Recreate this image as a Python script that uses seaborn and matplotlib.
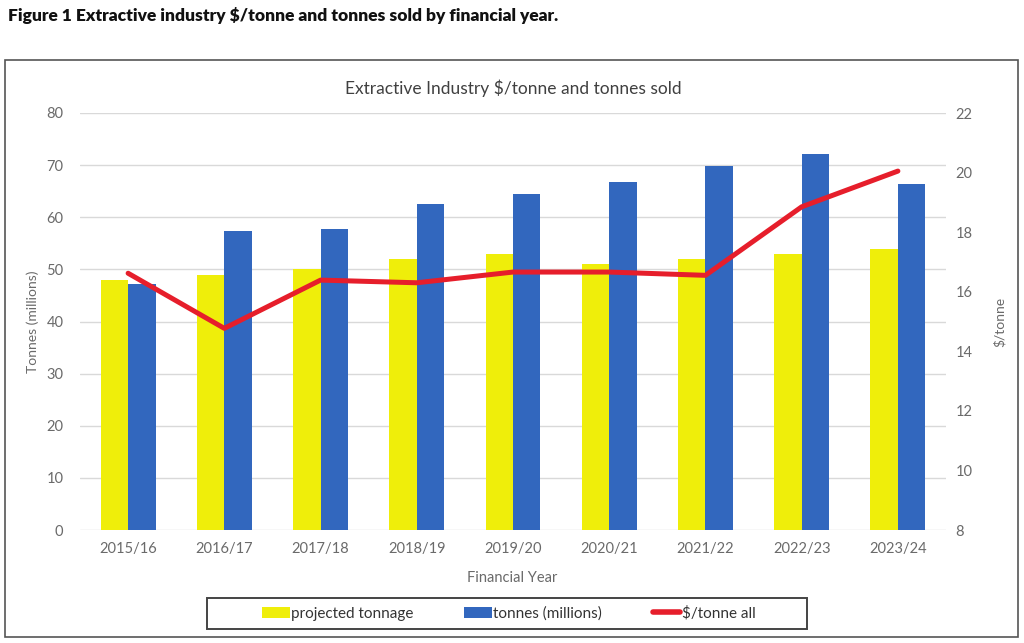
import numpy as np
import pandas as pd
import matplotlib
matplotlib.use("Agg")
import matplotlib.pyplot as plt
import seaborn as sns
from matplotlib.patches import Patch, Rectangle
from matplotlib.lines import Line2D

years = ["2015/16", "2016/17", "2017/18", "2018/19", "2019/20",
         "2020/21", "2021/22", "2022/23", "2023/24"]
projected_tonnage = [48, 49, 50, 52, 53, 51, 52, 53, 54]
tonnes_millions = [47.2, 57.4, 57.7, 62.6, 64.5, 66.7, 69.8, 72.1, 66.4]
dollars_per_tonne = [16.62, 14.77, 16.39, 16.30, 16.66, 16.66, 16.55, 18.85, 20.05]

series_names = ["projected tonnage", "tonnes (millions)"]
line_name = "$/tonne all"

YELLOW = "#EFEE0A"
BLUE = "#3267BE"
RED = "#E61E2B"
GRAY = "#6A6A6A"

df = pd.DataFrame({
    "year": years * 2,
    "value": projected_tonnage + tonnes_millions,
    "series": [series_names[0]] * len(years) + [series_names[1]] * len(years),
})
df_line = pd.DataFrame({"year": years, "price": dollars_per_tonne})

sns.set_theme(style="white")
plt.rcParams["font.family"] = ["Lato", "DejaVu Sans"]

fig = plt.figure(figsize=(10.24, 6.43), dpi=100)
ax = fig.add_axes([80 / 1024, 1 - 530 / 643, 866 / 1024, 417 / 643])

sns.barplot(data=df, x="year", y="value", hue="series", palette=[YELLOW, BLUE],
            width=0.57, saturation=1, ax=ax, legend=False, zorder=2,
            edgecolor="none", linewidth=0)
ax.set_ylim(0, 80)
ax.set_yticks(np.arange(0, 81, 10))
ax.set_xlim(-0.5, len(years) - 0.5)
ax.grid(axis="y", color="#D9D9D9", linewidth=1, zorder=0)
ax.set_axisbelow(True)
for s in ax.spines.values():
    s.set_visible(False)
ax.tick_params(axis="y", length=0, pad=12, labelsize=10.5, labelcolor=GRAY)
ax.tick_params(axis="x", length=0, pad=9, labelsize=10.5, labelcolor=GRAY)
ax.set_xlabel("Financial Year", fontsize=10.5, color=GRAY)
ax.xaxis.set_label_coords(0.4988, -0.098)
ax.set_ylabel("Tonnes (millions)", fontsize=10, color=GRAY)
ax.yaxis.set_label_coords(-0.047, 0.5)

ax2 = ax.twinx()
sns.lineplot(data=df_line, x="year", y="price", color=RED, linewidth=3.6,
             ax=ax2, solid_capstyle="round", solid_joinstyle="round", zorder=3)
ax2.set_ylim(8, 22)
ax2.set_yticks(np.arange(8, 23, 2))
ax2.set_xlim(-0.5, len(years) - 0.5)
for s in ax2.spines.values():
    s.set_visible(False)
ax2.grid(False)
ax2.tick_params(axis="y", length=0, pad=7, labelsize=10.5, labelcolor=GRAY)
ax2.set_ylabel("$/tonne", fontsize=10, color=GRAY, rotation=90)
ax2.yaxis.set_label_coords(1.055, 0.5)

ax.set_title("Extractive Industry $/tonne and tonnes sold", fontsize=12.5,
             color="#404040", pad=14)

fig.text(8 / 1024, 1 - 15 / 643, "Figure 1 Extractive industry $/tonne and tonnes sold by financial year.",
         fontsize=12.5, fontweight="heavy", color="#111111", va="center", ha="left")

# outer chart frame
fig.patches.append(Rectangle((5 / 1024, 6 / 643), 1013 / 1024, 577 / 643,
                             transform=fig.transFigure, fill=False,
                             edgecolor="#555555", linewidth=1.2))
# legend frame
fig.patches.append(Rectangle((207 / 1024, 1 - 629 / 643), 600 / 1024, 31 / 643,
                             transform=fig.transFigure, fill=False,
                             edgecolor="#444444", linewidth=1.4))

handles = [Patch(facecolor=YELLOW, edgecolor="none"),
           Patch(facecolor=BLUE, edgecolor="none"),
           Line2D([0], [0], color=RED, linewidth=4, solid_capstyle="round")]
labels = series_names + [line_name]
leg = fig.legend(handles, labels, loc="center", bbox_to_anchor=(0.497, 1 - 613.5 / 643),
                 ncol=3, frameon=False, fontsize=11, handlelength=1.8,
                 handletextpad=0.1, columnspacing=3.3)
for t in leg.get_texts():
    t.set_color("#333333")

fig.savefig("out.png", dpi=100)
